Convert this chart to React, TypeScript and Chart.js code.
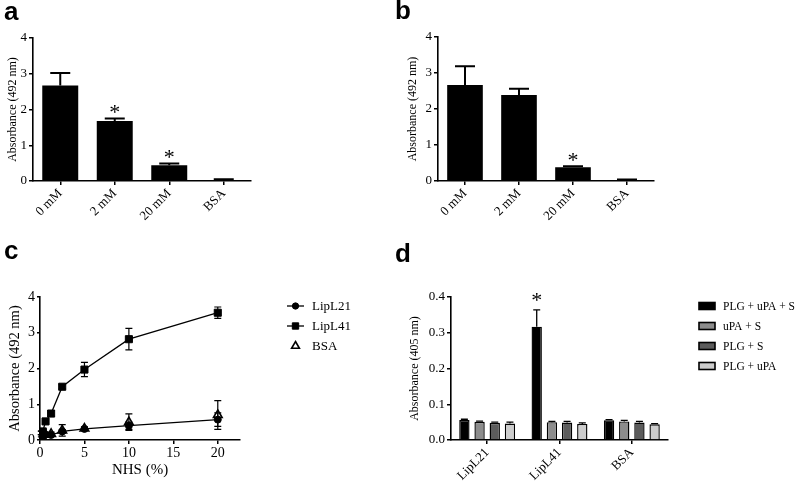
import React, { useEffect, useRef } from 'react';
import { Chart, registerables } from 'chart.js';

Chart.register(...registerables);

const SERIF = '"Liberation Serif", "Times New Roman", serif';

// ---------- Panel a / b data ----------
const concLabels = ['0 mM', '2 mM', '20 mM', 'BSA'];
const panelAValues = [2.67, 1.68, 0.44, 0.03];
const panelAErrors = [0.35, 0.07, 0.05, 0.02];
const panelASignificant = [false, true, true, false];
const panelBValues = [2.67, 2.39, 0.38, 0.02];
const panelBErrors = [0.52, 0.17, 0.03, 0.02];
const panelBSignificant = [false, false, true, false];

// ---------- Panel c data ----------
const nhsPercent = [0.156, 0.3125, 0.625, 1.25, 2.5, 5, 10, 20];
const lipL21Values = [0.2, 0.22, 0.15, 0.14, 0.24, 0.31, 0.4, 0.57];
const lipL21Errors = [0.05, 0.05, 0.03, 0.03, 0.05, 0.03, 0.1, 0.19];
const lipL41Values = [0.2, 0.24, 0.52, 0.74, 1.49, 1.97, 2.82, 3.56];
const lipL41Errors = [0.05, 0.05, 0.05, 0.08, 0.06, 0.2, 0.3, 0.16];
const bsaValues = [0.12, 0.15, 0.15, 0.17, 0.27, 0.32, 0.5, 0.7];
const bsaErrors = [0.03, 0.03, 0.03, 0.05, 0.16, 0.05, 0.23, 0.4];

// ---------- Panel d data ----------
const dCategories = ['LipL21', 'LipL41', 'BSA'];
const dSeriesLabels = ['PLG + uPA + S', 'uPA + S', 'PLG + S', 'PLG + uPA'];
const plgUpaSValues = [0.056, 0.317, 0.055];
const plgUpaSErrors = [0.002, 0.047, 0.002];
const plgUpaSSignificant = [false, true, false];
const upaSValues = [0.051, 0.05, 0.052];
const upaSErrors = [0.002, 0.002, 0.003];
const plgSValues = [0.048, 0.049, 0.049];
const plgSErrors = [0.002, 0.003, 0.003];
const plgUpaValues = [0.046, 0.045, 0.044];
const plgUpaErrors = [0.004, 0.003, 0.002];
const dColors = ['#000000', '#8c8c8c', '#5c5c5c', '#cdcdcd'];

// ---------- plugins ----------
const errorBarPlugin = {
  id: 'errorBars',
  afterDatasetsDraw(chart: any, _args: any, opts: any) {
    const { ctx } = chart;
    const yScale = chart.scales.y;
    chart.data.datasets.forEach((ds: any, i: number) => {
      const errs: number[] | undefined = ds.errorValues;
      if (!errs) return;
      const meta = chart.getDatasetMeta(i);
      meta.data.forEach((el: any, j: number) => {
        const raw = ds.data[j];
        const v = typeof raw === 'number' ? raw : raw.y;
        const e = errs[j] || 0;
        const x = el.x;
        const top = yScale.getPixelForValue(v + e);
        const mid = yScale.getPixelForValue(v);
        const bot = opts.both ? yScale.getPixelForValue(Math.max(0, v - e)) : mid;
        const half = opts.capWidth / 2;
        ctx.save();
        ctx.strokeStyle = '#000';
        ctx.lineWidth = opts.lineWidth;
        if (e > 0) {
          ctx.beginPath();
          ctx.moveTo(x, top);
          ctx.lineTo(x, bot);
          ctx.moveTo(x - half, top);
          ctx.lineTo(x + half, top);
          if (opts.both) {
            ctx.moveTo(x - half, bot);
            ctx.lineTo(x + half, bot);
          }
          ctx.stroke();
        }
        if (ds.significant && ds.significant[j]) {
          ctx.fillStyle = '#000';
          ctx.font = opts.starFont;
          ctx.textAlign = 'center';
          ctx.textBaseline = 'alphabetic';
          const m = ctx.measureText('*');
          const c = top - opts.starGap;
          ctx.fillText('*', x, c + (m.actualBoundingBoxAscent - m.actualBoundingBoxDescent) / 2);
        }
        ctx.restore();
      });
    });
  },
};

function drawMarker(ctx: CanvasRenderingContext2D, style: string, x: number, y: number, r: number, fill: string, stroke: string, lw: number) {
  ctx.beginPath();
  if (style === 'rect') {
    const s = r * Math.SQRT1_2;
    ctx.rect(x - s, y - s, 2 * s, 2 * s);
  } else if (style === 'triangle') {
    const a = (2 * Math.PI) / 3;
    ctx.moveTo(x, y - r);
    ctx.lineTo(x + Math.sin(a) * r, y - Math.cos(a) * r);
    ctx.lineTo(x - Math.sin(a) * r, y - Math.cos(a) * r);
    ctx.closePath();
  } else {
    ctx.arc(x, y, r, 0, Math.PI * 2);
  }
  ctx.fillStyle = fill;
  ctx.fill();
  ctx.strokeStyle = stroke;
  ctx.lineWidth = lw;
  ctx.stroke();
}

const fixedLegendPlugin = {
  id: 'fixedLegend',
  afterDraw(chart: any, _a: any, opts: any) {
    if (!opts || !opts.display) return;
    const { ctx } = chart;
    chart.data.datasets.forEach((ds: any, i: number) => {
      const y = opts.y + i * opts.rowHeight;
      ctx.save();
      if (opts.kind === 'line') {
        const cx = opts.x + opts.markerWidth / 2;
        if (ds.showLine !== false) {
          ctx.strokeStyle = '#000';
          ctx.lineWidth = 1.3;
          ctx.beginPath();
          ctx.moveTo(opts.x, y);
          ctx.lineTo(opts.x + opts.markerWidth, y);
          ctx.stroke();
        }
        drawMarker(ctx, ds.pointStyle, cx, y, ds.pointRadius * opts.markerScale, ds.pointBackgroundColor, ds.pointBorderColor, ds.pointBorderWidth || 1);
      } else {
        ctx.fillStyle = ds.backgroundColor;
        ctx.strokeStyle = '#000';
        ctx.lineWidth = 1.6;
        ctx.fillRect(opts.x, y - opts.boxHeight / 2, opts.markerWidth, opts.boxHeight);
        ctx.strokeRect(opts.x, y - opts.boxHeight / 2, opts.markerWidth, opts.boxHeight);
      }
      ctx.fillStyle = '#000';
      ctx.font = opts.font;
      ctx.textBaseline = 'middle';
      ctx.textAlign = 'left';
      ctx.fillText(ds.label, opts.textX, y + 1);
      ctx.restore();
    });
  },
};

// ---------- shared axis styling ----------
function axisStyle(tickLength: number) {
  return {
    grid: { display: true, drawOnChartArea: false, drawTicks: true, tickLength, color: '#000', lineWidth: 1.5, offset: false },
    border: { display: true, color: '#000', width: 1.6 },
  };
}

function barPanelConfig(values: number[], errors: number[], significant: boolean[], box: { left: number; top: number; right: number; bottom: number; canvasW: number; canvasH: number }) {
  return {
    type: 'bar',
    data: {
      labels: concLabels,
      datasets: [
        {
          data: values,
          backgroundColor: '#000',
          borderWidth: 0,
          barPercentage: 0.66,
          categoryPercentage: 1,
          errorValues: errors,
          significant,
        },
      ],
    },
    options: {
      animation: false,
      responsive: false,
      layout: { padding: { left: 0, top: box.top, right: box.canvasW - box.right, bottom: 0 } },
      plugins: {
        legend: { display: false },
        tooltip: { enabled: false },
        errorBars: { capWidth: 20, lineWidth: 2, both: false, starFont: `22px ${SERIF}`, starGap: 9 },
      },
      scales: {
        x: {
          ...axisStyle(4),
          ticks: { color: '#000', font: { family: SERIF, size: 13 }, minRotation: 45, maxRotation: 45, padding: 1 },
          afterFit: (s: any) => {
            s.height = box.canvasH - box.bottom;
          },
        },
        y: {
          ...axisStyle(4),
          min: 0,
          max: 4,
          ticks: { stepSize: 1, color: '#000', font: { family: SERIF, size: 13 }, padding: 2 },
          title: { display: true, text: 'Absorbance (492 nm)', color: '#000', font: { family: SERIF, size: 12 }, padding: { top: 6, bottom: 0 } },
          afterFit: (s: any) => {
            s.width = box.left;
          },
        },
      },
    },
    plugins: [errorBarPlugin],
  };
}

function pts(xs: number[], ys: number[]) {
  return xs.map((x, i) => ({ x, y: ys[i] }));
}

function panelCConfig() {
  const base = { borderColor: '#000', borderWidth: 1.3, pointBorderColor: '#000', pointBorderWidth: 1 };
  return {
    type: 'line',
    data: {
      datasets: [
        { ...base, label: 'LipL21', data: pts(nhsPercent, lipL21Values), errorValues: lipL21Errors, pointStyle: 'circle', pointRadius: 3.5, pointBackgroundColor: '#000', order: 1 },
        { ...base, label: 'LipL41', data: pts(nhsPercent, lipL41Values), errorValues: lipL41Errors, pointStyle: 'rect', pointRadius: 5, pointBackgroundColor: '#000', order: 2 },
        { ...base, label: 'BSA', data: pts(nhsPercent, bsaValues), errorValues: bsaErrors, showLine: false, pointStyle: 'triangle', pointRadius: 5, pointBackgroundColor: '#fff', pointBorderWidth: 1.6, order: 3 },
      ],
    },
    options: {
      animation: false,
      responsive: false,
      layout: { padding: { left: 0, top: 57, right: 160, bottom: 0 } },
      plugins: {
        legend: { display: false },
        tooltip: { enabled: false },
        errorBars: { capWidth: 7, lineWidth: 1.2, both: true, starFont: `20px ${SERIF}`, starGap: 9 },
        fixedLegend: { display: true, kind: 'line', x: 287, y: 66, rowHeight: 20, markerWidth: 17, markerScale: 0.9, textX: 312, font: `13px ${SERIF}` },
      },
      scales: {
        x: {
          type: 'linear',
          ...axisStyle(4),
          min: 0,
          max: 22.5,
          ticks: { stepSize: 5, includeBounds: false, color: '#000', font: { family: SERIF, size: 14 }, padding: 1, maxRotation: 0 },
          title: { display: true, text: 'NHS (%)', color: '#000', font: { family: SERIF, size: 15 }, padding: { top: 0, bottom: 2 } },
          afterFit: (s: any) => {
            s.height = 41;
          },
        },
        y: {
          ...axisStyle(3),
          min: 0,
          max: 4,
          ticks: { stepSize: 1, color: '#000', font: { family: SERIF, size: 14 }, padding: 2 },
          title: { display: true, text: 'Absorbance (492 nm)', color: '#000', font: { family: SERIF, size: 14.5 }, padding: { top: 6, bottom: 0 } },
          afterFit: (s: any) => {
            s.width = 40;
          },
        },
      },
    },
    plugins: [errorBarPlugin, fixedLegendPlugin],
  };
}

function panelDConfig() {
  const mk = (i: number, data: number[], errs: number[], sig?: boolean[]) => ({
    label: dSeriesLabels[i],
    data,
    errorValues: errs,
    significant: sig,
    backgroundColor: dColors[i],
    borderColor: '#000',
    borderWidth: 1.4,
    borderSkipped: 'bottom',
    barPercentage: 0.68,
    categoryPercentage: 0.84,
  });
  return {
    type: 'bar',
    data: {
      labels: dCategories,
      datasets: [
        mk(0, plgUpaSValues, plgUpaSErrors, plgUpaSSignificant),
        mk(1, upaSValues, upaSErrors),
        mk(2, plgSValues, plgSErrors),
        mk(3, plgUpaValues, plgUpaErrors),
      ],
    },
    options: {
      animation: false,
      responsive: false,
      layout: { padding: { left: 0, top: 57, right: 132, bottom: 0 } },
      plugins: {
        legend: { display: false },
        tooltip: { enabled: false },
        errorBars: { capWidth: 7, lineWidth: 1.3, both: false, starFont: `22px ${SERIF}`, starGap: 13 },
        fixedLegend: { display: true, kind: 'box', x: 299, y: 66, rowHeight: 20, markerWidth: 16, boxHeight: 7, textX: 323, font: `11.5px ${SERIF}` },
      },
      scales: {
        x: {
          ...axisStyle(4),
          ticks: { color: '#000', font: { family: SERIF, size: 13 }, minRotation: 45, maxRotation: 45, padding: 1 },
          afterFit: (s: any) => {
            s.height = 41;
          },
        },
        y: {
          ...axisStyle(4),
          min: 0,
          max: 0.4,
          ticks: { stepSize: 0.1, color: '#000', font: { family: SERIF, size: 13 }, padding: 2, callback: (v: any) => Number(v).toFixed(1) },
          title: { display: true, text: 'Absorbance (405 nm)', color: '#000', font: { family: SERIF, size: 12 }, padding: { top: 8, bottom: 0 } },
          afterFit: (s: any) => {
            s.width = 51;
          },
        },
      },
    },
    plugins: [errorBarPlugin, fixedLegendPlugin],
  };
}

function ChartCanvas({ left, top, width, height, makeConfig }: { left: number; top: number; width: number; height: number; makeConfig: () => any }) {
  const ref = useRef<HTMLCanvasElement | null>(null);
  useEffect(() => {
    if (!ref.current) return;
    const chart = new Chart(ref.current, makeConfig());
    return () => chart.destroy();
  }, []);
  return (
    <canvas
      ref={ref}
      width={width}
      height={height}
      style={{ position: 'absolute', left, top, width, height, display: 'block' }}
    />
  );
}

const letterStyle: React.CSSProperties = {
  position: 'absolute',
  font: 'bold 26px "Liberation Sans", Arial, sans-serif',
  lineHeight: '26px',
  color: '#000',
};

export default function App() {
  return (
    <div style={{ position: 'fixed', left: 0, top: 0, width: 800, height: 481, background: '#fff', overflow: 'hidden' }}>
      <ChartCanvas
        left={0}
        top={0}
        width={400}
        height={240}
        makeConfig={() => barPanelConfig(panelAValues, panelAErrors, panelASignificant, { left: 33, top: 38, right: 251, bottom: 181, canvasW: 400, canvasH: 240 })}
      />
      <ChartCanvas
        left={400}
        top={0}
        width={400}
        height={240}
        makeConfig={() => barPanelConfig(panelBValues, panelBErrors, panelBSignificant, { left: 38, top: 37, right: 254, bottom: 181, canvasW: 400, canvasH: 240 })}
      />
      <ChartCanvas left={0} top={240} width={400} height={241} makeConfig={panelCConfig} />
      <ChartCanvas left={400} top={240} width={400} height={241} makeConfig={panelDConfig} />
      <div style={{ ...letterStyle, left: 4, top: -2 }}>a</div>
      <div style={{ ...letterStyle, left: 395, top: -3 }}>b</div>
      <div style={{ ...letterStyle, left: 4, top: 237 }}>c</div>
      <div style={{ ...letterStyle, left: 395, top: 240 }}>d</div>
    </div>
  );
}
